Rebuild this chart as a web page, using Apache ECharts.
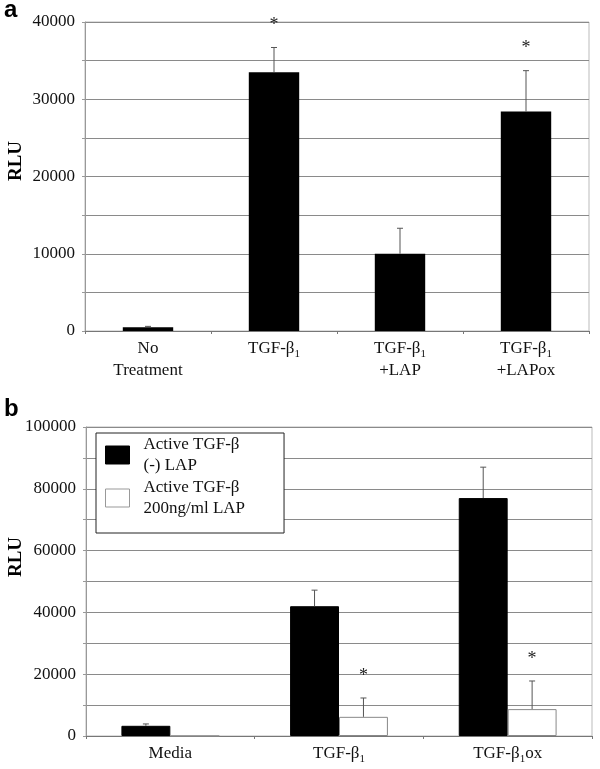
<!DOCTYPE html>
<html><head><meta charset="utf-8">
<script src="https://cdn.jsdelivr.net/npm/echarts@6/dist/echarts.min.js"></script>
<style>html,body{margin:0;padding:0;background:#fff}#c{width:600px;height:769px}</style>
</head><body><div id="c"></div><script>
// Panel a data
const catsA = ['No\nTreatment', 'TGF-β{s|1}', 'TGF-β{s|1}\n+LAP', 'TGF-β{s|1}\n+LAPox'];
const valsA = [500, 33500, 10000, 28400];
const errA = [100, 3200, 3300, 5300];
const sigA = [0, 1, 0, 1];
const ticksA = [0, 10000, 20000, 30000, 40000];

// Panel b data
const catsB = ['Media', 'TGF-β{s|1}', 'TGF-β{s|1}ox'];
const seriesNamesB = ['Active TGF-β\n(-) LAP', 'Active TGF-β\n200ng/ml LAP'];
const valsB1 = [3300, 42000, 77000];
const errB1 = [600, 5200, 10000];
const sigB1 = [0, 0, 0];
const valsB2 = [0, 6200, 8700];
const errB2 = [0, 6100, 9100];
const sigB2 = [0, 1, 1];
const ticksB = [0, 20000, 40000, 60000, 80000, 100000];

const FONT = 'Liberation Serif';
const gridColor = '#8a8a8a';

function errData(vals, errs, sigs) {
  return vals.map((v, i) => [i, v, v + errs[i], sigs[i], errs[i]]);
}
function errRender(offsetFrac) {
  return function (params, api) {
    if (api.value(4) <= 0) return null;
    const band = api.size([1, 0])[0];
    const p0 = api.coord([api.value(0), api.value(1)]);
    const p1 = api.coord([api.value(0), api.value(2)]);
    const cx = p0[0] + offsetFrac * band;
    const st = { stroke: '#555', lineWidth: 1 };
    const ch = [
      { type: 'line', shape: { x1: cx, y1: p0[1], x2: cx, y2: p1[1] }, style: st },
      { type: 'line', shape: { x1: cx - 3, y1: p1[1], x2: cx + 3, y2: p1[1] }, style: st }
    ];
    if (api.value(3)) {
      ch.push({ type: 'text', style: { text: '*', x: cx, y: p1[1] - 22, align: 'center', verticalAlign: 'middle', font: '18px "' + FONT + '"', fill: '#222' } });
    }
    return { type: 'group', children: ch };
  };
}
const richSub = { s: { fontSize: 11, fontFamily: FONT, color: '#111', verticalAlign: 'bottom', padding: [8, 0, 0, 0] } };

const chart = echarts.init(document.getElementById('c'), null, { renderer: 'canvas' });
const option = {
  animation: false,
  backgroundColor: '#fff',
  textStyle: { fontFamily: FONT },
  grid: [
    { left: 85, top: 22, width: 504, height: 309, show: true, borderColor: '#bbb', borderWidth: 1 },
    { left: 86, top: 427, width: 506, height: 309, show: true, borderColor: '#bbb', borderWidth: 1 }
  ],
  legend: {
    data: seriesNamesB.map((n, i) => ({
      name: n, icon: 'rect',
      itemStyle: i === 0 ? { color: '#000', borderColor: '#000', borderWidth: 1 } : { color: '#fff', borderColor: '#999', borderWidth: 1 }
    })),
    orient: 'vertical',
    left: 96, top: 433,
    padding: [1, 39, 14, 9],
    itemGap: 1,
    itemWidth: 24, itemHeight: 18,
    borderColor: '#222', borderWidth: 1,
    backgroundColor: '#fff',
    selectedMode: false,
    textStyle: { fontFamily: FONT, fontSize: 17, color: '#111', lineHeight: 21, padding: [0, 0, 0, 9] }
  },
  xAxis: [
    {
      type: 'category', gridIndex: 0, data: catsA,
      axisLine: { lineStyle: { color: '#777' } },
      axisTick: { show: true, length: 3, lineStyle: { color: '#777' } },
      axisLabel: { color: '#111', fontSize: 17, fontFamily: FONT, lineHeight: 22, margin: 7, rich: richSub }
    },
    {
      type: 'category', gridIndex: 1, data: catsB,
      axisLine: { lineStyle: { color: '#777' } },
      axisTick: { show: true, length: 3, lineStyle: { color: '#777' } },
      axisLabel: { color: '#111', fontSize: 17, fontFamily: FONT, lineHeight: 22, margin: 7, rich: richSub }
    }
  ],
  yAxis: [
    {
      type: 'value', gridIndex: 0, min: 0, max: ticksA[ticksA.length - 1], interval: 5000,
      axisLine: { show: true, lineStyle: { color: '#999' } },
      axisTick: { show: true, length: 3, lineStyle: { color: '#999' } },
      splitLine: { lineStyle: { color: gridColor, width: 1 } },
      axisLabel: { color: '#111', fontSize: 17, fontFamily: FONT, margin: 10,
        formatter: v => ticksA.includes(v) ? String(v) : '' }
    },
    {
      type: 'value', gridIndex: 1, min: 0, max: ticksB[ticksB.length - 1], interval: 10000,
      axisLine: { show: true, lineStyle: { color: '#999' } },
      axisTick: { show: true, length: 3, lineStyle: { color: '#999' } },
      splitLine: { lineStyle: { color: gridColor, width: 1 } },
      axisLabel: { color: '#111', fontSize: 17, fontFamily: FONT, margin: 10,
        formatter: v => ticksB.includes(v) ? String(v) : '' }
    }
  ],
  series: [
    {
      name: 'a', type: 'bar', xAxisIndex: 0, yAxisIndex: 0, data: valsA,
      barCategoryGap: '60%', itemStyle: { color: '#000' }
    },
    {
      name: 'aErr', type: 'custom', xAxisIndex: 0, yAxisIndex: 0, z: 5,
      data: errData(valsA, errA, sigA), renderItem: errRender(0)
    },
    {
      name: seriesNamesB[0], type: 'bar', xAxisIndex: 1, yAxisIndex: 1, data: valsB1,
      barGap: '0%', barCategoryGap: '42%', itemStyle: { color: '#000', borderColor: '#000', borderWidth: 1 }
    },
    {
      name: seriesNamesB[1], type: 'bar', xAxisIndex: 1, yAxisIndex: 1, data: valsB2,
      barGap: '0%', barCategoryGap: '42%', itemStyle: { color: '#fff', borderColor: '#888', borderWidth: 1 }
    },
    {
      name: 'b1Err', type: 'custom', xAxisIndex: 1, yAxisIndex: 1, z: 5,
      data: errData(valsB1, errB1, sigB1), renderItem: errRender(-0.145)
    },
    {
      name: 'b2Err', type: 'custom', xAxisIndex: 1, yAxisIndex: 1, z: 5,
      data: errData(valsB2, errB2, sigB2), renderItem: errRender(0.145)
    }
  ],
  graphic: [
    { type: 'text', left: 4, top: -2, style: { text: 'a', font: 'bold 24px "Liberation Sans"', fill: '#000' } },
    { type: 'text', left: 4, top: 397, style: { text: 'b', font: 'bold 24px "Liberation Sans"', fill: '#000' } },
    { type: 'text', x: 16, y: 161, rotation: Math.PI / 2, style: { text: 'RLU', font: 'bold 19px "Liberation Serif"', fill: '#000', align: 'center', verticalAlign: 'middle' } },
    { type: 'text', x: 16, y: 557, rotation: Math.PI / 2, style: { text: 'RLU', font: 'bold 19px "Liberation Serif"', fill: '#000', align: 'center', verticalAlign: 'middle' } }
  ]
};
chart.setOption(option);
</script></body></html>
